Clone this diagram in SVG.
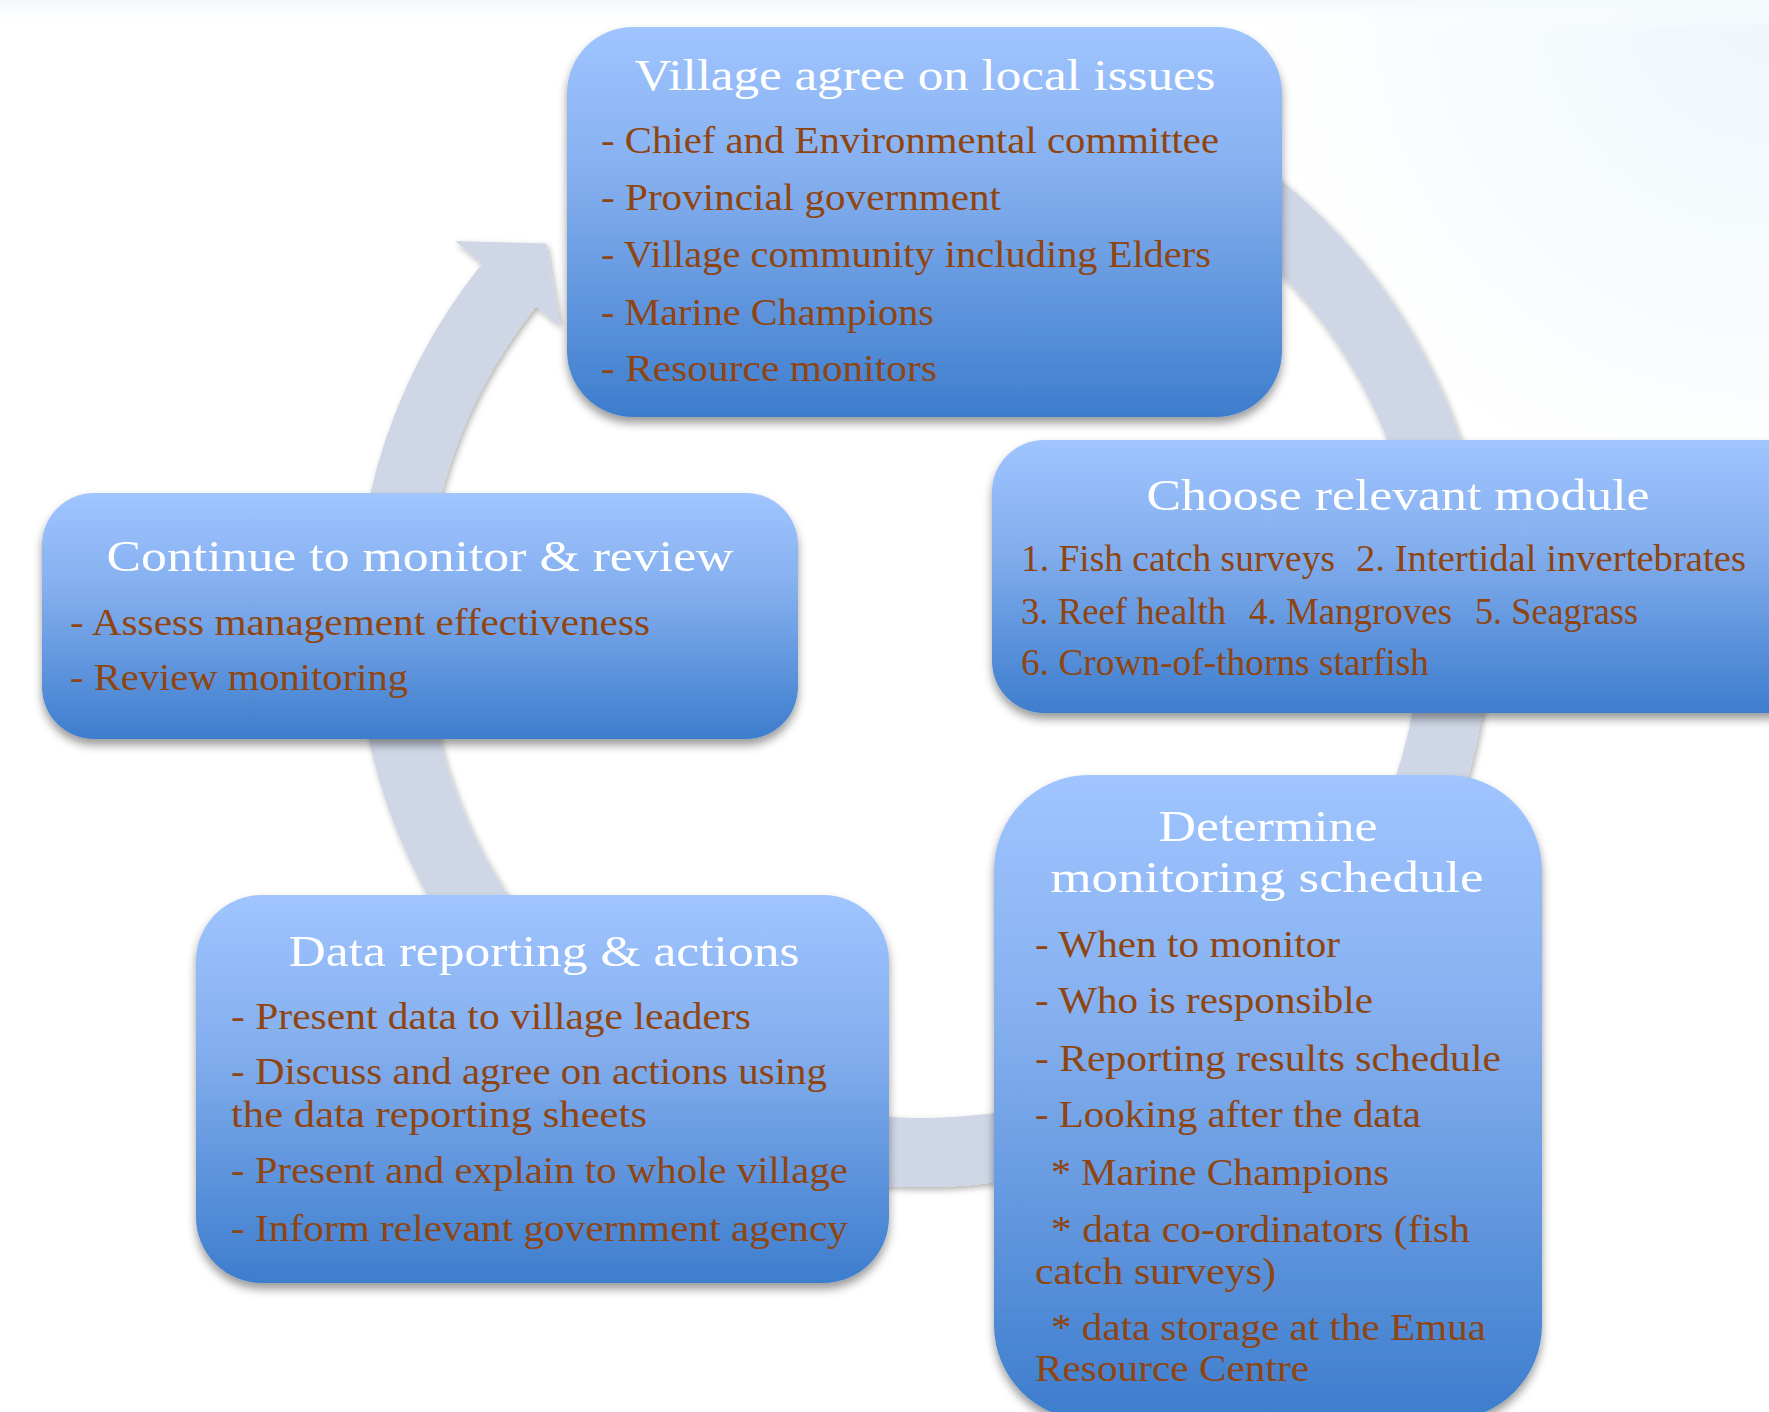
<svg xmlns="http://www.w3.org/2000/svg" width="1769" height="1412" viewBox="0 0 1769 1412">
  <style>
    .box { fill: url(#boxFill); filter: url(#boxShadow); }
    .title { font-family: "Liberation Serif", "DejaVu Serif", serif; font-size: 45px; fill: #ffffff; text-anchor: middle; }
    .item { font-family: "Liberation Serif", "DejaVu Serif", serif; font-size: 37px; fill: #8f4511; }
    .ring { fill: #cfd7e6; filter: url(#ringShadow); }
  </style>
  <defs>
    <linearGradient id="boxFill" x1="0" y1="0" x2="0" y2="1">
      <stop offset="0" stop-color="#a0c5ff"/>
      <stop offset="0.4" stop-color="#83aeee"/>
      <stop offset="1" stop-color="#3d7dcd"/>
    </linearGradient>
    <radialGradient id="haze" cx="1769" cy="0" r="520" gradientUnits="userSpaceOnUse">
      <stop offset="0" stop-color="#eef7fc"/>
      <stop offset="1" stop-color="#ffffff"/>
    </radialGradient>
    <linearGradient id="topHaze" x1="0" y1="0" x2="0" y2="1">
      <stop offset="0" stop-color="#f3f9fc"/>
      <stop offset="1" stop-color="#ffffff" stop-opacity="0"/>
    </linearGradient>
    <filter id="boxShadow" x="-10%" y="-10%" width="120%" height="125%">
      <feDropShadow dx="0" dy="6" stdDeviation="5" flood-color="#000000" flood-opacity="0.4"/>
    </filter>
    <filter id="ringShadow" x="-10%" y="-10%" width="120%" height="120%">
      <feDropShadow dx="2" dy="3" stdDeviation="3" flood-color="#000000" flood-opacity="0.3"/>
    </filter>
  </defs>

  <!-- page background with a faint tint along the top -->
  <rect width="1769" height="1412" fill="url(#haze)"/>
  <rect width="1769" height="30" fill="url(#topHaze)"/>

  <!-- circular cycle arrow, centre (923,620), band radii 498..567 -->
  <g id="connectors">
    <path class="ring" d="M 1206.5 129 A 567 567 0 1 1 482.4 263.2 L 455 241 L 546.5 243.5 L 560 326 L 536 306.6 A 498 498 0 1 0 1172 188.7 Z"/>
  </g>

  <g id="village">
    <rect class="box" x="567" y="27" width="715" height="390" rx="66"/>
    <text class="title" x="925" y="90" textLength="581" lengthAdjust="spacingAndGlyphs">Village agree on local issues</text>
    <text class="item" x="601" y="153" textLength="618" lengthAdjust="spacingAndGlyphs">- Chief and Environmental committee</text>
    <text class="item" x="601" y="210" textLength="400" lengthAdjust="spacingAndGlyphs">- Provincial government</text>
    <text class="item" x="601" y="267" textLength="610" lengthAdjust="spacingAndGlyphs">- Village community including Elders</text>
    <text class="item" x="601" y="325" textLength="333" lengthAdjust="spacingAndGlyphs">- Marine Champions</text>
    <text class="item" x="601" y="381" textLength="336" lengthAdjust="spacingAndGlyphs">- Resource monitors</text>
  </g>

  <g id="module">
    <rect class="box" x="992" y="440" width="830" height="273" rx="52"/>
    <text class="title" x="1398" y="510" textLength="503" lengthAdjust="spacingAndGlyphs">Choose relevant module</text>
    <text class="item" x="1021" y="571" textLength="314" lengthAdjust="spacingAndGlyphs">1. Fish catch surveys</text>
    <text class="item" x="1356" y="571" textLength="390" lengthAdjust="spacingAndGlyphs">2. Intertidal invertebrates</text>
    <text class="item" x="1021" y="624" textLength="205" lengthAdjust="spacingAndGlyphs">3. Reef health</text>
    <text class="item" x="1249" y="624" textLength="203" lengthAdjust="spacingAndGlyphs">4. Mangroves</text>
    <text class="item" x="1475" y="624" textLength="163" lengthAdjust="spacingAndGlyphs">5. Seagrass</text>
    <text class="item" x="1021" y="675" textLength="408" lengthAdjust="spacingAndGlyphs">6. Crown-of-thorns starfish</text>
  </g>

  <g id="schedule">
    <rect class="box" x="994" y="775" width="548" height="645" rx="95"/>
    <text class="title" x="1268" y="841" textLength="219" lengthAdjust="spacingAndGlyphs">Determine</text>
    <text class="title" x="1267" y="892" textLength="433" lengthAdjust="spacingAndGlyphs">monitoring schedule</text>
    <text class="item" x="1035" y="957" textLength="305" lengthAdjust="spacingAndGlyphs">- When to monitor</text>
    <text class="item" x="1035" y="1013" textLength="338" lengthAdjust="spacingAndGlyphs">- Who is responsible</text>
    <text class="item" x="1035" y="1071" textLength="466" lengthAdjust="spacingAndGlyphs">- Reporting results schedule</text>
    <text class="item" x="1035" y="1127" textLength="386" lengthAdjust="spacingAndGlyphs">- Looking after the data</text>
    <text class="item" x="1051" y="1185" textLength="338" lengthAdjust="spacingAndGlyphs">* Marine Champions</text>
    <text class="item" x="1051" y="1242" textLength="419" lengthAdjust="spacingAndGlyphs">* data co-ordinators (fish</text>
    <text class="item" x="1035" y="1284" textLength="241" lengthAdjust="spacingAndGlyphs">catch surveys)</text>
    <text class="item" x="1051" y="1340" textLength="435" lengthAdjust="spacingAndGlyphs">* data storage at the Emua</text>
    <text class="item" x="1035" y="1381" textLength="274" lengthAdjust="spacingAndGlyphs">Resource Centre</text>
  </g>

  <g id="reporting">
    <rect class="box" x="196" y="895" width="693" height="388" rx="66"/>
    <text class="title" x="544" y="966" textLength="511" lengthAdjust="spacingAndGlyphs">Data reporting &amp; actions</text>
    <text class="item" x="231" y="1029" textLength="520" lengthAdjust="spacingAndGlyphs">- Present data to village leaders</text>
    <text class="item" x="231" y="1084" textLength="596" lengthAdjust="spacingAndGlyphs">- Discuss and agree on actions using</text>
    <text class="item" x="231" y="1127" textLength="416" lengthAdjust="spacingAndGlyphs">the data reporting sheets</text>
    <text class="item" x="231" y="1183" textLength="617" lengthAdjust="spacingAndGlyphs">- Present and explain to whole village</text>
    <text class="item" x="231" y="1241" textLength="617" lengthAdjust="spacingAndGlyphs">- Inform relevant government agency</text>
  </g>

  <g id="review">
    <rect class="box" x="42" y="493" width="756" height="246" rx="52"/>
    <text class="title" x="420" y="571" textLength="627" lengthAdjust="spacingAndGlyphs">Continue to monitor &amp; review</text>
    <text class="item" x="70" y="635" textLength="580" lengthAdjust="spacingAndGlyphs">- Assess management effectiveness</text>
    <text class="item" x="70" y="690" textLength="338" lengthAdjust="spacingAndGlyphs">- Review monitoring</text>
  </g>
</svg>
